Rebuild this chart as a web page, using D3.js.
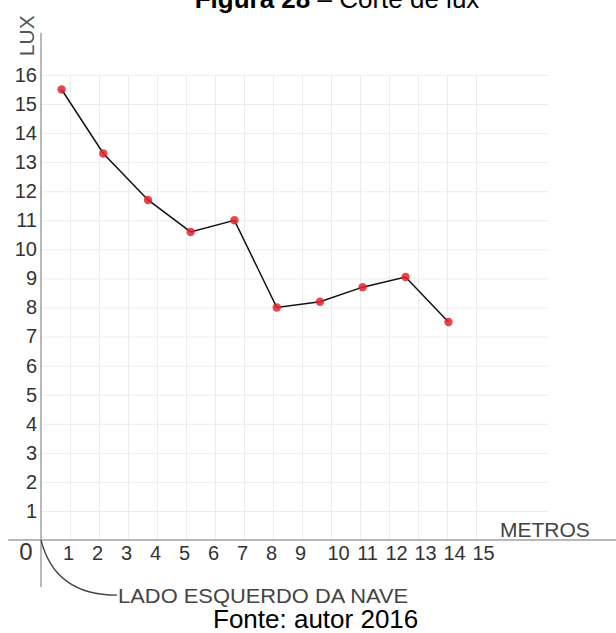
<!DOCTYPE html>
<html>
<head>
<meta charset="utf-8">
<script src="https://cdn.jsdelivr.net/npm/d3@7"></script>
<style>
  body { margin: 0; background: #fff; }
  svg { display: block; font-family: "Liberation Sans", Arial, sans-serif; }
</style>
</head>
<body>
<div id="chart"></div>
<script>
// data
var metros = [0.71, 2.15, 3.69, 5.16, 6.67, 8.13, 9.62, 11.09, 12.57, 14.05];
var lux = [15.5, 13.3, 11.7, 10.6, 11.0, 8.0, 8.2, 8.7, 9.05, 7.5];
var xTicks = [1, 2, 3, 4, 5, 6, 7, 8, 9, 10, 11, 12, 13, 14, 15];
var yTicks = [1, 2, 3, 4, 5, 6, 7, 8, 9, 10, 11, 12, 13, 14, 15, 16];

var data = metros.map(function(m, i) { return {x: m, y: lux[i]}; });

var W = 616, H = 633;

var svg = d3.select("#chart")
  .append("svg")
    .attr("width", W)
    .attr("height", H);

// scales: origin at (41,540), ~29px per unit both ways
var x = d3.scaleLinear()
    .domain([0, 15])
    .range([41, 476]);
var y = d3.scaleLinear()
    .domain([0, 16])
    .range([540, 75]);

// title (top is clipped in the original too)
var title = svg.append("text")
    .attr("x", 337)
    .attr("y", 8)
    .attr("text-anchor", "middle")
    .style("font-size", "26px")
    .attr("fill", "#000");
title.append("tspan").style("font-weight", "bold").text("Figura 28");
title.append("tspan").text(" \u2013 Corte de lux");

// grid (horizontal)
svg.append("g")
  .attr("transform", "translate(" + x(0) + ",0)")
  .call(d3.axisRight(y).tickValues(yTicks).tickSize(x(17.5) - x(0)).tickFormat(""))
  .call(function(g) { g.select(".domain").remove(); })
  .selectAll("line")
    .attr("stroke", "#ececec")
    .attr("stroke-width", 1);

// grid (vertical)
svg.append("g")
  .attr("transform", "translate(0," + y(0) + ")")
  .call(d3.axisTop(x).tickValues(xTicks).tickSize(y(0) - y(16)).tickFormat(""))
  .call(function(g) { g.select(".domain").remove(); })
  .selectAll("line")
    .attr("stroke", "#ececec")
    .attr("stroke-width", 1);

// axis lines
svg.append("line")
  .attr("x1", x(-1.13)).attr("x2", W)
  .attr("y1", y(0)).attr("y2", y(0))
  .attr("stroke", "#a0a0a0")
  .attr("stroke-width", 1.5);
svg.append("line")
  .attr("x1", x(0)).attr("x2", x(0))
  .attr("y1", y(17.45)).attr("y2", y(-1.62))
  .attr("stroke", "#a0a0a0")
  .attr("stroke-width", 1.5);

// y tick labels
var yAxis = svg.append("g")
  .attr("transform", "translate(" + (x(0) - 4) + ",0)")
  .call(d3.axisLeft(y).tickValues(yTicks).tickSize(0).tickPadding(0).tickFormat(d3.format("d")));
yAxis.select(".domain").remove();
yAxis.selectAll("text")
  .attr("fill", "#333")
  .style("font-size", "20px")
  .style("font-family", "\"Liberation Sans\", Arial, sans-serif");

// x tick labels
var xAxis = svg.append("g")
  .attr("transform", "translate(0," + y(0) + ")")
  .call(d3.axisBottom(x).tickValues(xTicks).tickSize(0).tickPadding(6).tickFormat(d3.format("d")));
xAxis.select(".domain").remove();
xAxis.selectAll("text")
  .attr("fill", "#333")
  .attr("dx", function(d) { return d >= 10 ? 7 : -2; })
  .style("font-size", "20px")
  .style("font-family", "\"Liberation Sans\", Arial, sans-serif");

// origin label
svg.append("text")
  .attr("x", x(0) - 15)
  .attr("y", y(0) + 20)
  .attr("text-anchor", "middle")
  .attr("fill", "#333")
  .style("font-size", "24px")
  .text("0");

// axis names
svg.append("text")
  .attr("transform", "translate(" + (x(0) - 7) + "," + y(17.35) + ") rotate(-90)")
  .attr("text-anchor", "middle")
  .attr("fill", "#555")
  .style("font-size", "21px")
  .text("LUX");

svg.append("text")
  .attr("x", 500)
  .attr("y", y(0) - 3)
  .attr("fill", "#444")
  .style("font-size", "21px")
  .text("METROS");

// pointer to the left side of the nave
svg.append("path")
  .attr("d", "M" + x(0) + "," + y(0) + " Q" + x(0.48) + "," + y(-1.9) + " " + x(2.62) + "," + y(-1.9))
  .attr("fill", "none")
  .attr("stroke", "#444")
  .attr("stroke-width", 1.3);
svg.append("text")
  .attr("x", x(2.66))
  .attr("y", y(-1.9) + 8)
  .attr("fill", "#444")
  .style("font-size", "21px")
  .attr("textLength", 290)
  .attr("lengthAdjust", "spacingAndGlyphs")
  .text("LADO ESQUERDO DA NAVE");

// the line
svg.append("path")
  .datum(data)
  .attr("fill", "none")
  .attr("stroke", "#111")
  .attr("stroke-width", 1.5)
  .attr("d", d3.line()
    .x(function(d) { return x(d.x) })
    .y(function(d) { return y(d.y) })
  );

// the points
svg.append("g")
  .selectAll("circle")
  .data(data)
  .enter()
  .append("circle")
    .attr("cx", function(d) { return x(d.x) })
    .attr("cy", function(d) { return y(d.y) })
    .attr("r", 4.2)
    .attr("fill", "#e3242b")
    .attr("fill-opacity", 0.85);

// source
svg.append("text")
  .attr("x", 213)
  .attr("y", 628)
  .attr("fill", "#000")
  .style("font-size", "26px")
  .text("Fonte: autor 2016");
</script>
</body>
</html>
